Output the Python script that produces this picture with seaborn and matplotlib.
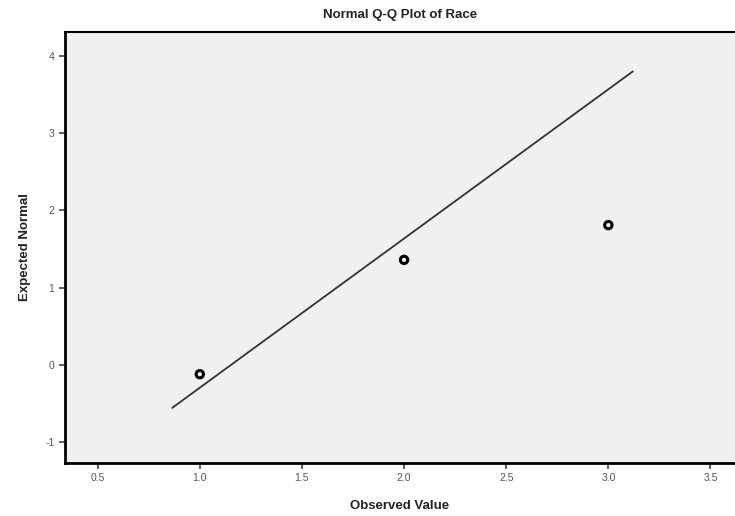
import numpy as np
import pandas as pd
import matplotlib
matplotlib.use("Agg")
import matplotlib.pyplot as plt
import seaborn as sns

# --- Data ---
observed = [1.0, 2.0, 3.0]
expected = [-0.12, 1.36, 1.81]
line_x = [0.865, 3.12]
line_y = [-0.556, 3.80]

x_ticks = [0.5, 1.0, 1.5, 2.0, 2.5, 3.0, 3.5]
y_ticks = [-1, 0, 1, 2, 3, 4]

sns.set_style("white")
plt.rcParams['font.family'] = ['Liberation Sans', 'DejaVu Sans']
plt.rcParams['axes.unicode_minus'] = False

fig = plt.figure(figsize=(7.35, 5.16), dpi=100)
ax = fig.add_axes([0.0884, 0.1027, 0.9116, 0.8353])
ax.set_facecolor("#f0f0f0")

pts = pd.DataFrame({"Observed": observed, "Expected": expected})
ref = pd.DataFrame({"x": line_x, "y": line_y})

sns.lineplot(data=ref, x="x", y="y", ax=ax, color="#333333", linewidth=1.3)
sns.scatterplot(data=pts, x="Observed", y="Expected", ax=ax, s=28,
                facecolor="none", edgecolor="black", linewidth=2.2, zorder=3)

ax.set_xlim(0.34, 3.62)
ax.set_ylim(-1.27, 4.31)
ax.set_xticks(x_ticks)
ax.set_xticklabels([f"{v:.1f}" for v in x_ticks])
ax.set_yticks(y_ticks)
ax.tick_params(axis="both", direction="out", length=4, width=1.2, color="#444444",
               labelsize=7.5, labelcolor="#555555", left=True, bottom=True)

for side in ["left", "bottom"]:
    ax.spines[side].set_linewidth(2)
    ax.spines[side].set_color("black")
ax.spines["top"].set_linewidth(1.5)
ax.spines["top"].set_color("black")
ax.spines["right"].set_visible(False)

ax.set_xlabel("Observed Value", fontsize=9.5, fontweight="bold", color="#222222", labelpad=12)
ax.set_ylabel("Expected Normal", fontsize=9.5, fontweight="bold", color="#222222", labelpad=10)
ax.set_title("Normal Q-Q Plot of Race", fontsize=9.5, fontweight="bold", color="#222222", pad=10)

fig.savefig("out.png", dpi=100)
